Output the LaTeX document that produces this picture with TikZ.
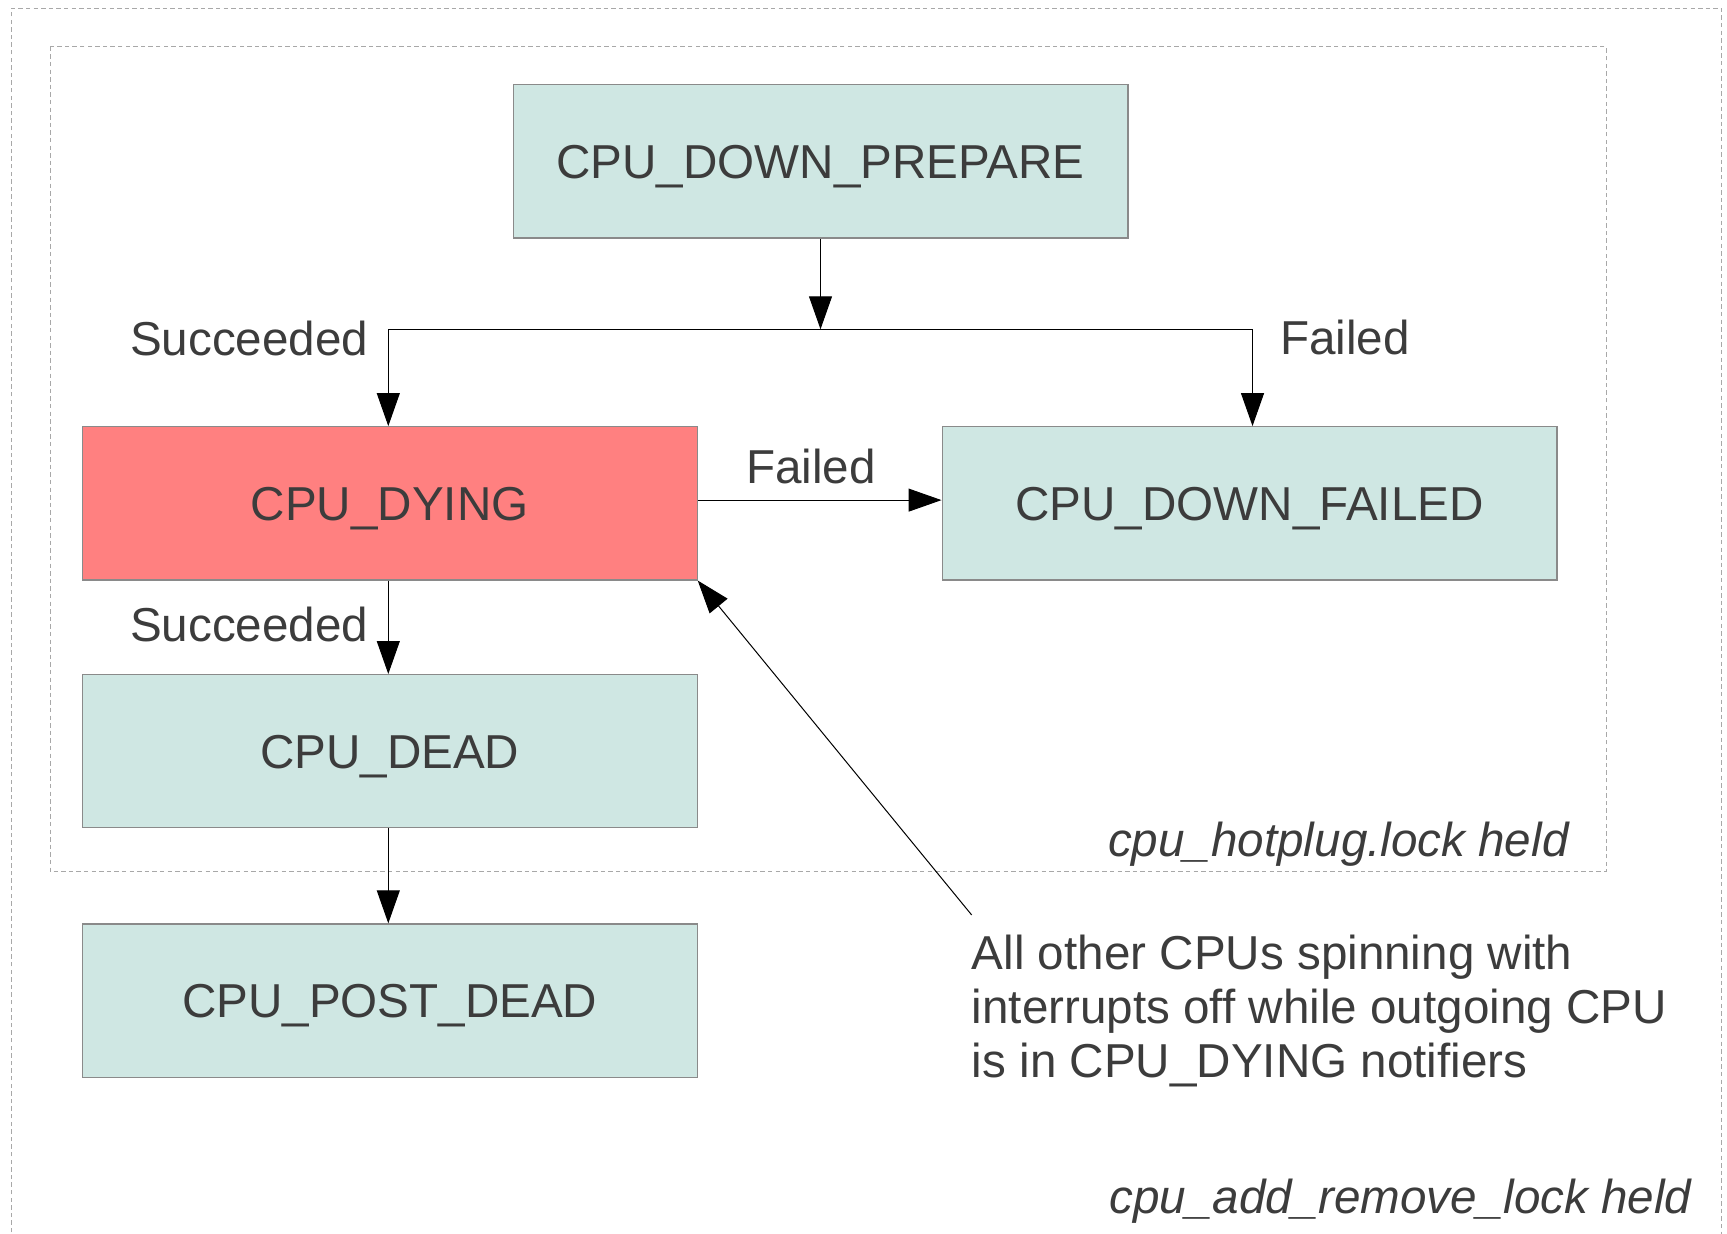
\documentclass[tikz,border=0pt]{standalone}
\usepackage{fontspec}
\setmainfont{Liberation Sans}
\usetikzlibrary{arrows.meta}
\definecolor{txt}{HTML}{3C3C3C}
\definecolor{boxfill}{HTML}{CFE7E3}
\definecolor{redfill}{HTML}{FF8080}
\definecolor{boxline}{HTML}{8A8A8A}
\definecolor{dashcol}{HTML}{A8A8A8}
\tikzset{
  state/.style={draw=boxline, line width=0.6pt, fill=boxfill, rectangle,
    minimum width=307.4pt, minimum height=76.6pt, inner sep=0pt,
    text height=17pt, text depth=0pt,
    text=txt, font=\fontsize{23.8}{27}\selectfont},
  lbl/.style={inner sep=0pt, text=txt, font=\fontsize{23.8}{27}\selectfont},
  ilbl/.style={inner sep=0pt, text=txt, font=\fontsize{23.8}{27}\selectfont\itshape},
  conn/.style={draw=black, line width=0.5pt, -{Triangle[length=16.5pt, width=11.5pt]}},
  dashbox/.style={draw=dashcol, line width=0.5pt, dash pattern=on 2.2pt off 1.6pt}
}
\begin{document}
\begin{tikzpicture}[x=0.5pt, y=-0.5pt]
\useasboundingbox (0,0) rectangle (1727,1233);
\fill[white] (0,0) rectangle (1727,1233);
% dashed frames
\draw[dashbox] (11.7,1240) -- (11.7,8) -- (1721,8) -- (1721,1240);
\draw[dashbox] (50,46.7) rectangle (1606,871.5);
% states
\node[state] (prep) at (820.5,161.3) {CPU\_DOWN\_PREPARE};
\node[state, fill=redfill] (dying) at (389.7,503.3) {CPU\_DYING};
\node[state] (failed) at (1249.5,503.3) {CPU\_DOWN\_FAILED};
\node[state] (dead) at (389.7,751.2) {CPU\_DEAD};
\node[state] (post) at (389.7,1000.5) {CPU\_POST\_DEAD};
% junction
\coordinate (j) at (820.5,329.3);
\draw[conn] (prep.south) -- (j);
\draw[conn] (j) -| ([xshift=-0.7pt]dying.north);
\draw[conn] (j) -| ([xshift=1.5pt]failed.north);
\draw[conn] ([yshift=1.6pt]dying.east) -- ([yshift=1.6pt]failed.west);
\draw[conn] ([xshift=-0.7pt]dying.south) -- ([xshift=-0.7pt]dead.north);
\draw[conn] ([xshift=-0.7pt]dead.south) -- ([xshift=-0.7pt]post.north);
% labels
\node[lbl, anchor=base west] (l1) at (129.7,355) {Succeeded};
\node[lbl, anchor=base west] (l2) at (1279.7,354) {Failed};
\node[lbl, anchor=base west] (l3) at (745.7,483.3) {Failed};
\node[lbl, anchor=base west] (l4) at (129.7,641.7) {Succeeded};
\node[ilbl, anchor=base east] (lk1) at (1569,856) {cpu\_hotplug.lock held};
\node[ilbl, anchor=base east] (lk2) at (1692,1213) {cpu\_add\_remove\_lock held};
% annotation
\node[lbl, anchor=north west, align=left] (note) at (971.5,934.8)
  {All other CPUs spinning with\\interrupts off while outgoing CPU\\is in CPU\_DYING notifiers};
\coordinate (an) at (971.7,915);
\draw[conn] (an) -- (dying.south east);
\end{tikzpicture}
\end{document}
